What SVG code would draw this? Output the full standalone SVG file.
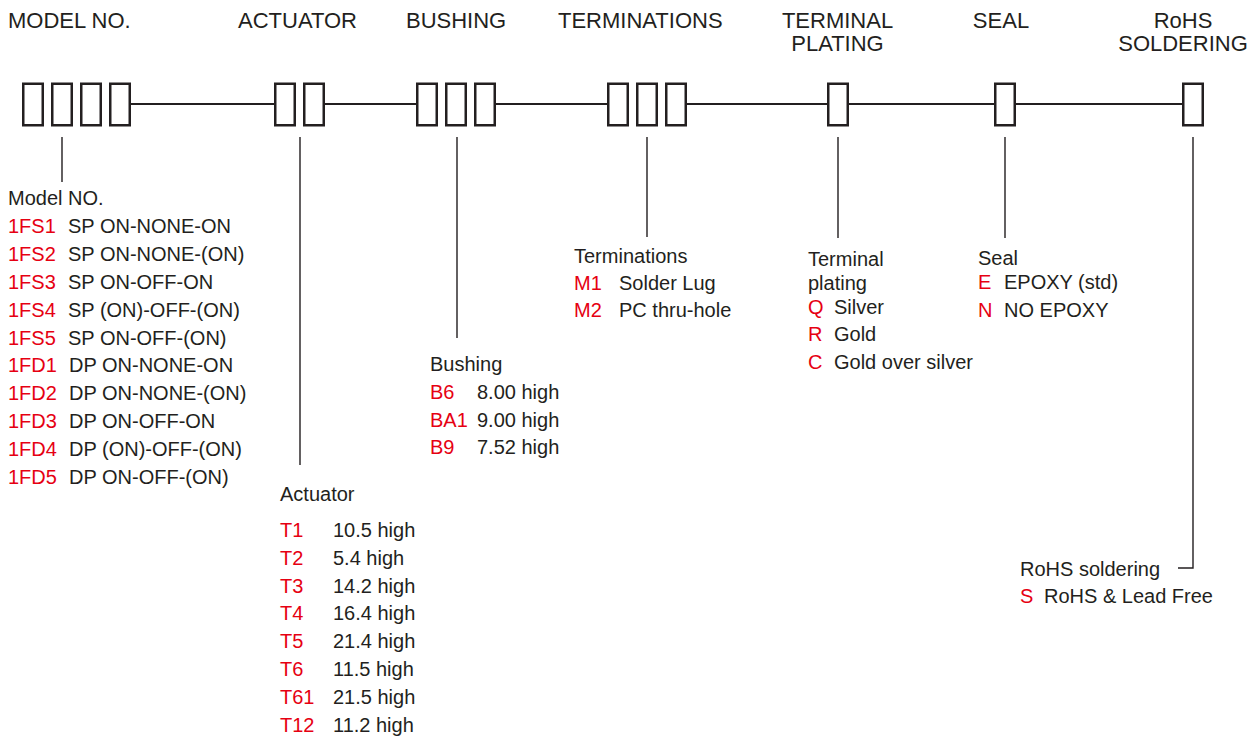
<svg xmlns="http://www.w3.org/2000/svg" width="1259" height="737" viewBox="0 0 1259 737">
<style>
text{font-family:"Liberation Sans",Arial,sans-serif;fill:#231f20}
.h{font-size:22px}
.b{font-size:20px}
.r{fill:#e60012}
.box{fill:#fff;stroke:#231f20;stroke-width:2.5}
.ln{stroke:#231f20;stroke-width:2.2;fill:none}
.ld{stroke:#231f20;stroke-width:1.4;fill:none}
</style>
<rect width="1259" height="737" fill="#fff"/>
<g id="connectors">
<path class="ln" d="M131 104H274M325 104H416M496 104H607M687 104H827M849 104H994M1016 104H1182"/>
<path class="ld" d="M62 137V182M300 137V465M457 137V338M647 137V237M838 137V238M1005 137V238M1193 137V568H1178"/>
</g>
<g id="model">
<text class="h" x="8" y="28">MODEL NO.</text>
<rect class="box" x="23.25" y="83.75" width="19.5" height="41.5"/>
<rect class="box" x="52.25" y="83.75" width="19.5" height="41.5"/>
<rect class="box" x="81.25" y="83.75" width="19.5" height="41.5"/>
<rect class="box" x="110.25" y="83.75" width="19.5" height="41.5"/>
<text class="b" x="8" y="205">Model NO.</text>
<text class="b r" x="8" y="233">1FS1</text><text class="b" x="68" y="233">SP ON-NONE-ON</text>
<text class="b r" x="8" y="261">1FS2</text><text class="b" x="68" y="261">SP ON-NONE-(ON)</text>
<text class="b r" x="8" y="289">1FS3</text><text class="b" x="68" y="289">SP ON-OFF-ON</text>
<text class="b r" x="8" y="317">1FS4</text><text class="b" x="68" y="317">SP (ON)-OFF-(ON)</text>
<text class="b r" x="8" y="345">1FS5</text><text class="b" x="68" y="345">SP ON-OFF-(ON)</text>
<text class="b r" x="8" y="372">1FD1</text><text class="b" x="69" y="372">DP ON-NONE-ON</text>
<text class="b r" x="8" y="400">1FD2</text><text class="b" x="69" y="400">DP ON-NONE-(ON)</text>
<text class="b r" x="8" y="428">1FD3</text><text class="b" x="69" y="428">DP ON-OFF-ON</text>
<text class="b r" x="8" y="456">1FD4</text><text class="b" x="69" y="456">DP (ON)-OFF-(ON)</text>
<text class="b r" x="8" y="484">1FD5</text><text class="b" x="69" y="484">DP ON-OFF-(ON)</text>
</g>
<g id="actuator">
<text class="h" x="238" y="28">ACTUATOR</text>
<rect class="box" x="275.25" y="83.75" width="19.5" height="41.5"/>
<rect class="box" x="304.25" y="83.75" width="19.5" height="41.5"/>
<text class="b" x="280" y="501">Actuator</text>
<text class="b r" x="280" y="537">T1</text><text class="b" x="333" y="537">10.5 high</text>
<text class="b r" x="280" y="565">T2</text><text class="b" x="333" y="565">5.4 high</text>
<text class="b r" x="280" y="593">T3</text><text class="b" x="333" y="593">14.2 high</text>
<text class="b r" x="280" y="620">T4</text><text class="b" x="333" y="620">16.4 high</text>
<text class="b r" x="280" y="648">T5</text><text class="b" x="333" y="648">21.4 high</text>
<text class="b r" x="280" y="676">T6</text><text class="b" x="333" y="676">11.5 high</text>
<text class="b r" x="280" y="704">T61</text><text class="b" x="333" y="704">21.5 high</text>
<text class="b r" x="280" y="732">T12</text><text class="b" x="333" y="732">11.2 high</text>
</g>
<g id="bushing">
<text class="h" x="406" y="28">BUSHING</text>
<rect class="box" x="417.25" y="83.75" width="19.5" height="41.5"/>
<rect class="box" x="446.25" y="83.75" width="19.5" height="41.5"/>
<rect class="box" x="475.25" y="83.75" width="19.5" height="41.5"/>
<text class="b" x="430" y="371">Bushing</text>
<text class="b r" x="430" y="399">B6</text><text class="b" x="477" y="399">8.00 high</text>
<text class="b r" x="430" y="427">BA1</text><text class="b" x="477" y="427">9.00 high</text>
<text class="b r" x="430" y="454">B9</text><text class="b" x="477" y="454">7.52 high</text>
</g>
<g id="terminations">
<text class="h" x="558" y="28">TERMINATIONS</text>
<rect class="box" x="608.25" y="83.75" width="19.5" height="41.5"/>
<rect class="box" x="637.25" y="83.75" width="19.5" height="41.5"/>
<rect class="box" x="666.25" y="83.75" width="19.5" height="41.5"/>
<text class="b" x="574" y="263">Terminations</text>
<text class="b r" x="574" y="290">M1</text><text class="b" x="619" y="290">Solder Lug</text>
<text class="b r" x="574" y="317">M2</text><text class="b" x="619" y="317">PC thru-hole</text>
</g>
<g id="terminal-plating">
<text class="h" x="837.5" y="28" text-anchor="middle">TERMINAL</text>
<text class="h" x="837.5" y="51" text-anchor="middle">PLATING</text>
<rect class="box" x="828.25" y="83.75" width="19.5" height="41.5"/>
<text class="b" x="808" y="266">Terminal</text>
<text class="b" x="808" y="290">plating</text>
<text class="b r" x="808" y="314">Q</text><text class="b" x="834" y="314">Silver</text>
<text class="b r" x="808" y="341">R</text><text class="b" x="834" y="341">Gold</text>
<text class="b r" x="808" y="369">C</text><text class="b" x="834" y="369">Gold over silver</text>
</g>
<g id="seal">
<text class="h" x="1001" y="28" text-anchor="middle">SEAL</text>
<rect class="box" x="995.25" y="83.75" width="19.5" height="41.5"/>
<text class="b" x="978" y="265">Seal</text>
<text class="b r" x="978" y="289">E</text><text class="b" x="1004" y="289">EPOXY (std)</text>
<text class="b r" x="978" y="317">N</text><text class="b" x="1004" y="317">NO EPOXY</text>
</g>
<g id="rohs">
<text class="h" x="1183" y="28" text-anchor="middle">RoHS</text>
<text class="h" x="1183" y="51" text-anchor="middle">SOLDERING</text>
<rect class="box" x="1183.25" y="83.75" width="19.5" height="41.5"/>
<text class="b" x="1020" y="576">RoHS soldering</text>
<text class="b r" x="1020" y="603">S</text><text class="b" x="1044" y="603">RoHS &amp; Lead Free</text>
</g>
</svg>
